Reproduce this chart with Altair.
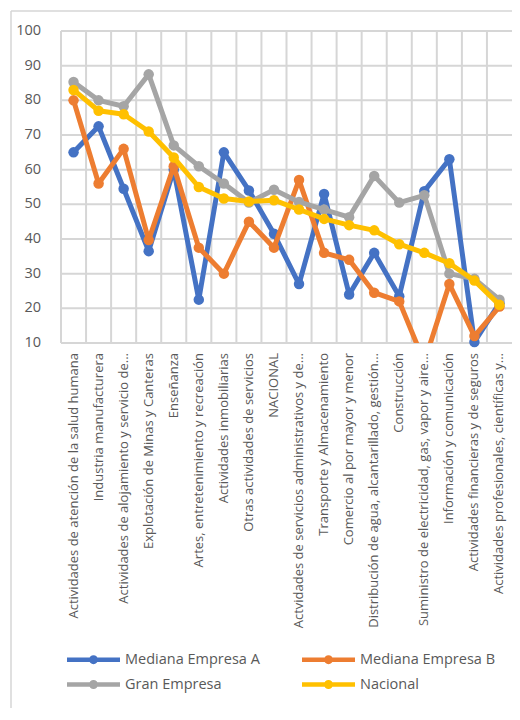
import altair as alt
import pandas as pd

categories = [
    "Actividades de atención de la salud humana",
    "Industria manufacturera",
    "Actividades de alojamiento y servicio de...",
    "Explotación de Minas y Canteras",
    "Enseñanza",
    "Artes, entretenimiento y recreación",
    "Actividades inmobiliarias",
    "Otras actividades de servicios",
    "NACIONAL",
    "Actvidades de servicios administrativos y de...",
    "Transporte y Almacenamiento",
    "Comercio al por mayor y menor",
    "Distribución de agua, alcantarillado, gestión...",
    "Construcción",
    "Suministro de electricidad, gas, vapor y aire...",
    "Información y comunicación",
    "Actividades financieras y de seguros",
    "Actividades profesionales, científicas y...",
]

mediana_a = [65, 72.5, 54.5, 36.5, 60, 22.5, 65, 54, 41.5, 27, 53, 24, 36, 23.5, 53.8, 63, 10.3, 21.5]
mediana_b = [80, 56, 66, 39.7, 61, 37.5, 30, 45, 37.5, 57, 36, 34, 24.5, 22, 4.5, 27, 12, 20.5]
gran_empresa = [85.3, 80, 78.3, 87.5, 67, 61, 56, 50.5, 54.2, 50.7, 48.5, 46.3, 58.2, 50.5, 52.6, 30, 28.5, 22.5]
nacional = [83, 77, 76, 71, 63.5, 55, 51.7, 50.8, 51.2, 48.5, 45.8, 44, 42.5, 38.5, 36, 33, 28, 21]

series_names = ["Mediana Empresa A", "Mediana Empresa B", "Gran Empresa", "Nacional"]
series_colors = ["#4472C4", "#ED7D31", "#A5A5A5", "#FFC000"]
y_ticks = [10, 20, 30, 40, 50, 60, 70, 80, 90, 100]

rows = []
for name, vals in zip(series_names, [mediana_a, mediana_b, gran_empresa, nacional]):
    for cat, v in zip(categories, vals):
        rows.append({"categoria": cat, "serie": name, "valor": v})
df = pd.DataFrame(rows)

FONT = "Open Sans"
GRID = "#d6d6d6"
TXT = "#595959"

x_scale = alt.Scale(type="band", domain=categories, paddingInner=0, paddingOuter=0)
y_scale = alt.Scale(domain=[10, 100], nice=False, zero=False)

x_enc = alt.X("categoria:N", sort=categories, scale=x_scale, axis=None)
y_enc = alt.Y("valor:Q", scale=y_scale, axis=None)

legend = alt.Legend(
    title=None,
    orient="none",
    direction="horizontal",
    legendX=25,
    legendY=621,
    columns=2,
    padding=0,
    rowPadding=2,
    columnPadding=33,
    symbolType="M-5.3,0H5.3M-0.45,0A0.45,0.45,0,1,1,0.45,0A0.45,0.45,0,1,1,-0.45,0",
    symbolSize=100,
    symbolStrokeWidth=4.5,
    symbolOffset=0,
    labelOffset=24,
    labelFont=FONT,
    labelFontSize=14.5,
    labelColor=TXT,
)
color_enc = alt.Color(
    "serie:N",
    scale=alt.Scale(domain=series_names, range=series_colors),
    legend=legend,
)

ticks_df = pd.DataFrame({"valor": y_ticks})
cats_df = pd.DataFrame({"categoria": categories})

# gridlines driven by the scales
hgrid = alt.Chart(ticks_df).mark_rule(color=GRID, strokeWidth=2).encode(y=y_enc)
vgrid = alt.Chart(cats_df).mark_rule(color=GRID, strokeWidth=2).encode(
    x=alt.X("categoria:N", sort=categories, scale=x_scale, bandPosition=0, axis=None)
)

# axis labels as text marks placed by the scales
ylabels = alt.Chart(ticks_df).mark_text(
    align="right", baseline="middle", font=FONT, fontSize=14.5, color=TXT
).encode(y=y_enc, x=alt.value(-20), text=alt.Text("valor:Q"))
xlabels = alt.Chart(cats_df).mark_text(
    angle=270, align="right", baseline="middle", font=FONT, fontSize=13, color=TXT
).encode(x=x_enc, y=alt.value(322), text=alt.Text("categoria:N"))

layers = [hgrid, vgrid, ylabels, xlabels]
for name in series_names:
    base = alt.Chart(df).transform_filter(alt.datum.serie == name)
    layers.append(
        base.mark_line(strokeWidth=5, strokeJoin="round", strokeCap="round", clip=True).encode(
            x=x_enc, y=y_enc, color=color_enc
        )
    )
    layers.append(
        base.transform_filter(alt.datum.valor >= 10)
        .mark_point(filled=True, size=110, opacity=1)
        .encode(x=x_enc, y=y_enc, color=color_enc)
    )

# outer chart-area border (left and top edges)
frame_df = pd.DataFrame({"k": [0]})
frame_left = alt.Chart(frame_df).mark_rule(color=GRID, strokeWidth=1.5).encode(
    x=alt.value(-50), y=alt.value(-20), y2=alt.value(700)
)
frame_top = alt.Chart(frame_df).mark_rule(color=GRID, strokeWidth=1.5).encode(
    x=alt.value(-50), x2=alt.value(470), y=alt.value(-20)
)
layers += [frame_left, frame_top]

chart = (
    alt.layer(*layers)
    .properties(
        width=451,
        height=312,
        autosize=alt.AutoSizeParams(type="none"),
        padding={"left": 53, "top": 23, "right": 0, "bottom": 365},
    )
    .configure_view(stroke=None)
)

chart.save("out.html", embed_options={"renderer": "svg", "actions": False})
